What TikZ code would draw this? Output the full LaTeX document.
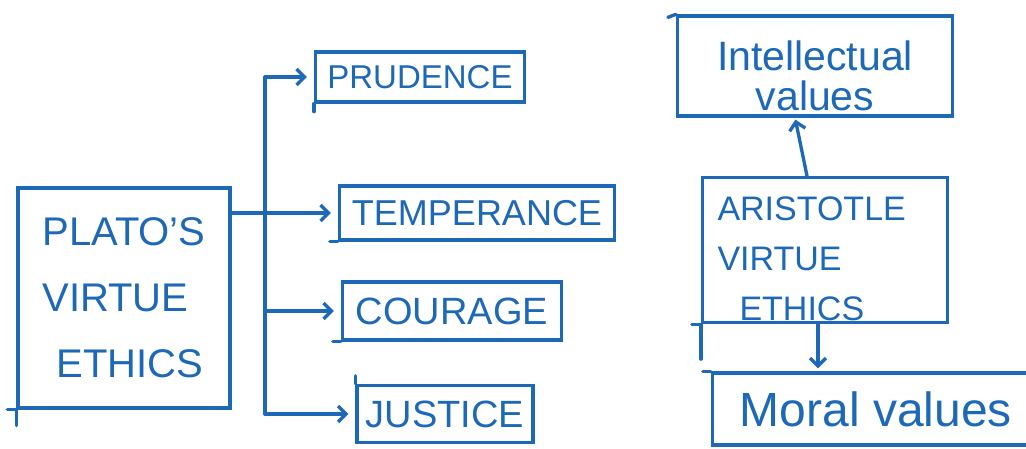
\documentclass[tikz,border=0pt]{standalone}
\usepackage{fontspec}
\setmainfont{Liberation Sans}
\usetikzlibrary{arrows.meta}
\definecolor{pen}{RGB}{30,104,184}
\begin{document}
\begin{tikzpicture}[x=1pt,y=-1pt,
  box/.style={draw=pen, line width=3.3pt, text=pen, inner sep=0pt},
  stroke/.style={draw=pen, line width=3.3pt, line cap=round},
  link/.style={stroke, -{Straight Barb[length=8pt,width=16pt,line width=3.3pt]}, shorten >=7pt},
  ]
  \fill[white] (0,0) rectangle (1026,448);
  \clip (0,0) rectangle (1026,448);

  % Plato's branch
  \node[box, minimum width=212pt, minimum height=220pt, align=left,
        font=\fontsize{40}{66}\selectfont] (plato) at (124,298)
        {PLATO’S\\VIRTUE\\\hspace*{14pt}ETHICS};
  \node[box, minimum width=209pt, minimum height=50pt,
        font=\fontsize{33}{33}\selectfont] (pru) at (420,77) {PRUDENCE};
  \node[box, minimum width=275pt, minimum height=54pt,
        font=\fontsize{36}{36}\selectfont] (tem) at (477,213) {TEMPERANCE};
  \node[box, minimum width=219pt, minimum height=58pt,
        font=\fontsize{38}{38}\selectfont] (cou) at (452,311) {COURAGE};
  \node[box, minimum width=176pt, minimum height=57pt,
        font=\fontsize{38}{38}\selectfont] (jus) at (445,414) {JUSTICE};

  \coordinate (tx) at (265,0);
  \draw[stroke] (tx |- pru.west) -- (tx |- jus.west);
  \draw[link] (plato.east |- tem.west) -- (tem.west);
  \draw[link] (tx |- pru.west) -- (pru.west);
  \draw[link] (tx |- cou.west) -- (cou.west);
  \draw[link] (tx |- jus.west) -- (jus.west);

  % Aristotle's branch
  \node[box, minimum width=275pt, minimum height=100pt, align=center,
        font=\fontsize{41}{40}\selectfont] (int) at (815,66)
        {\rule{0pt}{50pt}Intellectual\\values};
  \node[box, minimum width=245pt, minimum height=145pt, text width=215pt,
        align=left, font=\fontsize{34}{50}\selectfont] (ari) at (825,250)
        {\rule{0pt}{42pt}ARISTOTLE\\VIRTUE\\\hspace*{22pt}ETHICS};
  \node[box, minimum width=327pt, minimum height=72pt,
        font=\fontsize{48}{48}\selectfont] (mor) at (876,409) {Moral values};

  \draw[link, shorten >=2pt] ([xshift=-18pt]ari.north) -- ([xshift=-20pt]int.south);
  \draw[link, shorten >=3pt] ([xshift=-7pt]ari.south) -- ([xshift=-7pt]ari.south |- mor.north);

  % pen overshoots at box corners
  \draw[stroke] (plato.south west) ++(-9,0) -- ++(9,0) -- ++(0,16);
  \draw[stroke] (ari.south west) ++(-9,0) -- ++(9,0) -- ++(0,35);
  \draw[stroke] (jus.north west) -- ++(0,-8);
  \draw[stroke] (cou.south west) -- ++(-8,0);
  \draw[stroke] (tem.south west) -- ++(-8,0);
  \draw[stroke] (pru.south west) -- ++(0,8);
  \draw[stroke] (int.north west) -- ++(-8,3);
  \draw[stroke] (mor.north west) -- ++(-8,0);
\end{tikzpicture}
\end{document}
